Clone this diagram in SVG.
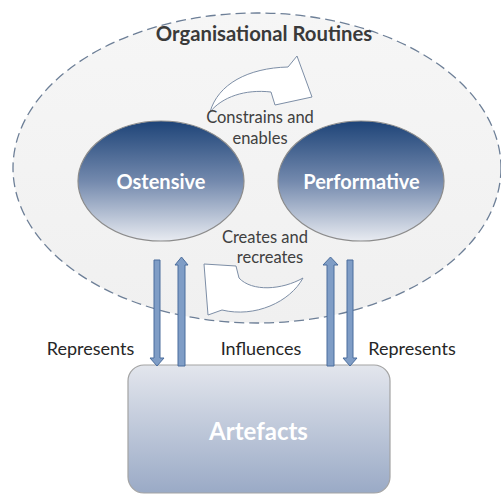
<svg xmlns="http://www.w3.org/2000/svg" width="501" height="495" viewBox="0 0 501 495">
  <defs>
    <linearGradient id="gOval" x1="0" y1="0" x2="0" y2="1">
      <stop offset="0" stop-color="#1e4478"/>
      <stop offset="0.5" stop-color="#7389ad"/>
      <stop offset="1" stop-color="#e8ebf1"/>
    </linearGradient>
    <linearGradient id="gBox" x1="0" y1="0" x2="0" y2="1">
      <stop offset="0" stop-color="#e3e6ed"/>
      <stop offset="1" stop-color="#9aaac6"/>
    </linearGradient>
    <linearGradient id="gBig" x1="0" y1="0" x2="0" y2="1">
      <stop offset="0" stop-color="#f6f6f6"/>
      <stop offset="1" stop-color="#f0f0f0"/>
    </linearGradient>
  </defs>
  <style>
    .oval { fill: url(#gOval); stroke: #8c8c8c; stroke-width: 1.2; }
    .node-title { font-family: Lato, "Liberation Sans", sans-serif; font-weight: bold; fill: #ffffff; text-anchor: middle; }
    .lbl { font-family: Lato, "Liberation Sans", sans-serif; font-size: 18px; fill: #262626; text-anchor: middle; }
    .inner { font-family: Lato, "Liberation Sans", sans-serif; font-size: 16.5px; fill: #404040; text-anchor: middle; }
    .curve { fill: #ffffff; stroke: #7d8ea6; stroke-width: 1; stroke-linejoin: miter; }
    .varrow { fill: #7f9dc6; stroke: #4b6d9c; stroke-width: 1; }
  </style>

  <g id="routines">
    <ellipse cx="257" cy="168" rx="244" ry="155" fill="url(#gBig)" stroke="#6d7f97" stroke-width="1.3" stroke-dasharray="10,5"/>
    <text x="264" y="41" font-family="Lato, 'Liberation Sans', sans-serif" font-size="20.3" font-weight="bold" fill="#3a3a3a" text-anchor="middle">Organisational Routines</text>
  </g>

  <g id="ostensive">
    <ellipse class="oval" cx="161" cy="181" rx="83" ry="60"/>
    <text class="node-title" x="161" y="189" font-size="20">Ostensive</text>
  </g>

  <g id="performative">
    <ellipse class="oval" cx="361" cy="181" rx="83" ry="60"/>
    <text class="node-title" x="361.5" y="189" font-size="20">Performative</text>
  </g>

  <g id="artefacts">
    <rect x="128" y="365" width="262" height="128" rx="16" ry="16" fill="url(#gBox)" stroke="#a3a3a3" stroke-width="1.2"/>
    <text class="node-title" x="258.5" y="440" font-size="24">Artefacts</text>
  </g>

  <g id="connectors">
    <path class="curve" d="M210,112 C218,84 248,68 288,67 L297,56 L312,97 L275,105 L271,92 C245,89 222,97 210,112 Z"/>
    <text class="inner" x="260" y="123">Constrains and</text>
    <text class="inner" x="260" y="144">enables</text>

    <path class="curve" d="M303,278 C290,302 255,318 222,310 L208,315 L204,264 L236,266 L239,278 C252,292 282,290 303,278 Z"/>
    <text class="inner" x="265" y="243">Creates and</text>
    <text class="inner" x="270" y="263">recreates</text>

    <path class="varrow" d="M154,260 L160,260 L160,358 L164,358 L157,366 L150,358 L154,358 Z"/>
    <path class="varrow" d="M178,366 L185,366 L185,265 L188,265 L181.5,257 L175,265 L178,265 Z"/>
    <path class="varrow" d="M327,366 L334,366 L334,265 L338,265 L330.5,257 L323,265 L327,265 Z"/>
    <path class="varrow" d="M347,260 L353,260 L353,358 L357,358 L350,366 L343,358 L347,358 Z"/>

    <text class="lbl" x="90.5" y="355">Represents</text>
    <text class="lbl" x="261" y="355">Influences</text>
    <text class="lbl" x="412" y="355">Represents</text>
  </g>
</svg>
